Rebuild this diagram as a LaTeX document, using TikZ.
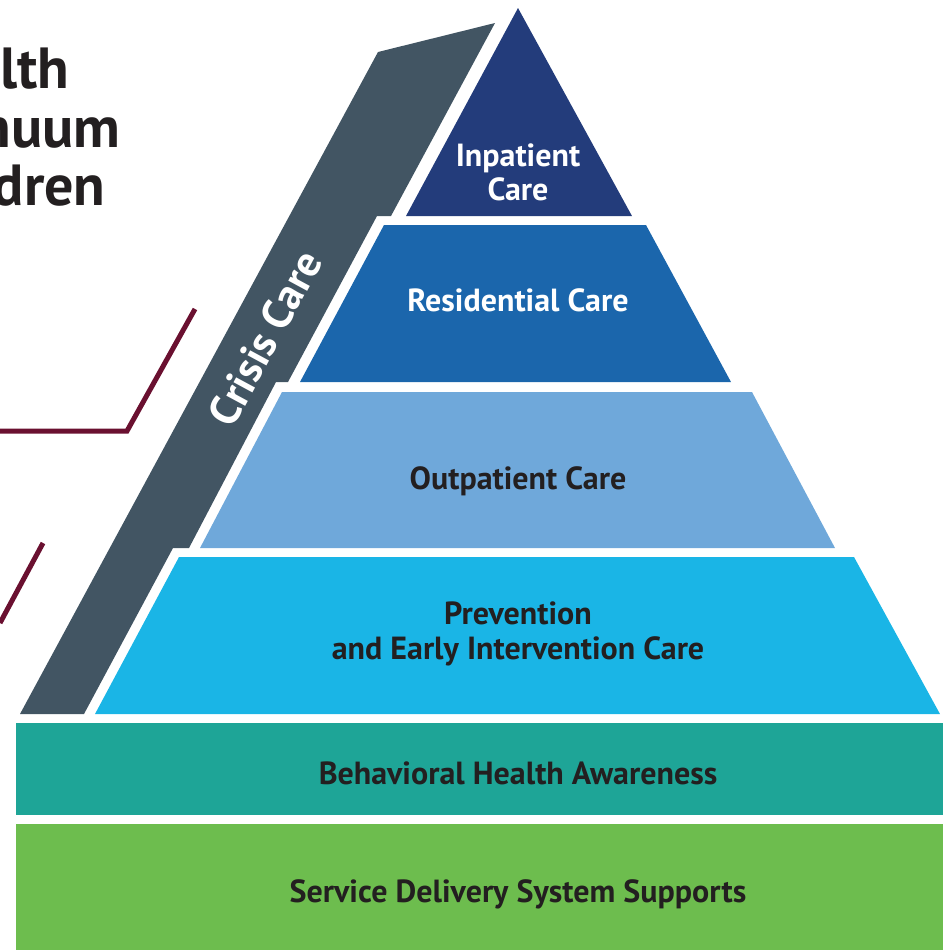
\documentclass[tikz,border=0pt]{standalone}
\usepackage{fontspec}
\setmainfont{PT Sans}
\usetikzlibrary{positioning}

\definecolor{inpatcol}{HTML}{233C7B}
\definecolor{residcol}{HTML}{1B66AC}
\definecolor{outpatcol}{HTML}{6FA8DA}
\definecolor{preventcol}{HTML}{1AB5E6}
\definecolor{awarecol}{HTML}{1EA597}
\definecolor{supportcol}{HTML}{6DBD4E}
\definecolor{crisiscol}{HTML}{425563}
\definecolor{rulecol}{HTML}{6A1030}
\definecolor{inkcol}{HTML}{231F20}

\begin{document}
\begin{tikzpicture}[x = 0.5pt, y = -0.5pt,
    tierlabel/.style = {font = \bfseries\fontsize{16}{17}\selectfont, align = center, inner sep = 0pt},
    titlebit/.style = {font = \bfseries\fontsize{29}{29}\selectfont, text = inkcol, inner sep = 0pt, anchor = base east},
    rulebar/.style = {draw = rulecol, line width = 2.5pt}]
    \useasboundingbox (0, 0) rectangle (943, 950);
    \clip (0, 0) rectangle (943, 950);

    % title, cut off at the left edge
    \node[titlebit] (t1) at (70, 88){lth};
    \node[titlebit] (t2) at (121, 147){nuum};
    \node[titlebit] (t3) at (106, 205){dren};
    \node[titlebit, font = \bfseries\fontsize{20}{20}\selectfont] (t4) at (3, 288){n};

    \draw[rulebar] (0, 431) -- (127, 431) -- (195, 309);
    \draw[rulebar] (43, 543) -- (0, 623);

    % crisis bar
    \fill[crisiscol] (20, 714) -- (378, 52) -- (495, 23) -- (391, 216) -- (377, 216)
        -- (288, 382) -- (276, 382) -- (189, 548) -- (173, 548) -- (84, 714) -- cycle;
    \node[tierlabel, text = white, font = \bfseries\fontsize{21.5}{21.5}\selectfont, rotate = 61.6] (crisis) at (265, 338){Crisis Care};

    % pyramid
    \fill[inpatcol] (518, 8) -- (632, 216) -- (406, 216) -- cycle;
    \fill[residcol] (384, 225) -- (646, 225) -- (731, 382) -- (300, 382) -- cycle;
    \fill[outpatcol] (282, 392) -- (752, 392) -- (835, 548) -- (200, 548) -- cycle;
    \fill[preventcol] (179, 557) -- (854, 557) -- (940, 714) -- (95, 714) -- cycle;
    \fill[awarecol] (16, 723) rectangle (943, 815);
    \fill[supportcol] (16, 824) rectangle (943, 950);

    \node[tierlabel, text = white] (inpat) at (518, 172){Inpatient\\Care};
    \node[tierlabel, text = white] (resid) at (518, 300){Residential Care};
    \node[tierlabel, text = inkcol] (outpat) at (518, 481){Outpatient Care};
    \node[tierlabel, text = inkcol, font = \bfseries\fontsize{16}{17.5}\selectfont] (prevent) at (518, 634){Prevention\\and Early Intervention Care};
    \node[tierlabel, text = inkcol] (aware) at (518, 773){Behavioral Health Awareness};
    \node[tierlabel, text = inkcol] (support) at (518, 894){Service Delivery System Supports};
\end{tikzpicture}
\end{document}
